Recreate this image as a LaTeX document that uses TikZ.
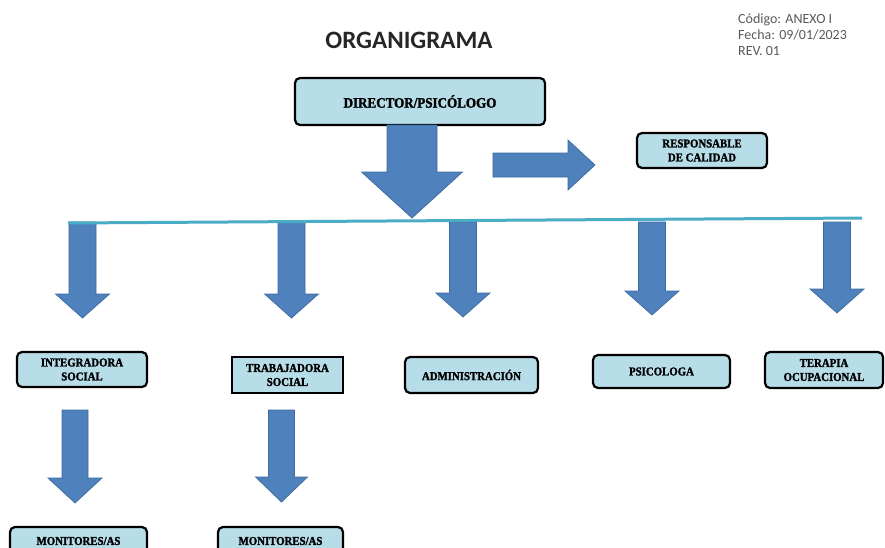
\documentclass[tikz,border=0pt]{standalone}
\usepackage{fontspec}
\setmainfont{Liberation Serif}
\newfontfamily\calibri{Carlito}
\newfontfamily\gruesa[FakeBold=1.6,FakeStretch=0.9]{Liberation Serif Bold}
\usepackage{xcolor}
\usetikzlibrary{calc,positioning}
\definecolor{cajaazul}{HTML}{B7DDE8}
\definecolor{flechaazul}{HTML}{4F81BD}
\definecolor{flechaborde}{HTML}{3D6A9E}
\definecolor{lineaazul}{HTML}{4BACC6}
\tikzset{%
	caja/.style      = {draw=black, line width=2.2pt, rounded corners=5pt, fill=cajaazul, align=center, inner sep=1pt, font=\gruesa\fontsize{12}{14}\selectfont},
	cajarecta/.style = {caja, rounded corners=0pt},
	bloque/.style    = {fill=flechaazul, draw=flechaborde, line width=0.7pt},
	linea/.style     = {draw=lineaazul, line width=3pt},
}
% flecha de bloque: origen, punta, medio ancho del cuerpo, medio ancho de la punta, largo de la punta
\newcommand{\flechabloque}[5]{%
	\coordinate (cuello) at ($(#2)!#5!(#1)$);
	\filldraw[bloque] ($(#1)!#3!90:(#2)$) -- ($(cuello)!#3!90:(#2)$) -- ($(cuello)!#4!90:(#2)$) -- (#2)
		-- ($(cuello)!#4!-90:(#2)$) -- ($(cuello)!#3!-90:(#2)$) -- ($(#1)!#3!-90:(#2)$) -- cycle;
}

\begin{document}
\begin{tikzpicture}[x=1pt,y=-1pt]
		\useasboundingbox (0,0) rectangle (885,547);
		\clip (0,0) rectangle (885,547);
		
		\node[font=\calibri\bfseries\fontsize{25}{30}\selectfont, text=black!85] (titulo) at (409,40) {ORGANIGRAMA};
		\node[anchor=north west, align=left, inner sep=0pt, font=\calibri\fontsize{14}{16}\selectfont, text=black!65] (codigo) at (738,14) {Código: ANEXO I\\Fecha: 09/01/2023\\REV. 01};
		
		\node[caja, minimum width=250pt, minimum height=47pt, font=\gruesa\fontsize{14.5}{16}\selectfont] (director) at (420,101.5) {DIRECTOR/PSICÓLOGO};
		\node[caja, minimum width=130pt, minimum height=35pt] (calidad) at (702,150.5) {RESPONSABLE\\DE CALIDAD};
		
		\node[caja, minimum width=130pt, minimum height=35pt] (integradora) at (82,369.5) {INTEGRADORA\\SOCIAL};
		\node[cajarecta, minimum width=111pt, minimum height=36pt] (trabajadora) at (287.5,375) {TRABAJADORA\\SOCIAL};
		\node[caja, minimum width=133pt, minimum height=36pt] (admin) at (471.5,375) {ADMINISTRACIÓN};
		\node[caja, minimum width=137pt, minimum height=33pt] (psicologa) at (661.5,371.5) {PSICOLOGA};
		\node[caja, minimum width=118pt, minimum height=36pt] (terapia) at (824,370) {TERAPIA\\OCUPACIONAL};
		\node[caja, minimum width=137pt, minimum height=28pt] (monitores1) at (78.5,541) {MONITORES/AS};
		\node[caja, minimum width=125pt, minimum height=28pt] (monitores2) at (280.5,541) {MONITORES/AS};
		
		\coordinate (dirsal) at (412,125);
		\coordinate (dirpunta) at (412,218);
		\coordinate (calsal) at (493,165);
		\coordinate (calpunta) at (595,165);
		\coordinate (linea0) at (68,223);
		\coordinate (linea1) at (862,218);
		
		\flechabloque{dirsal}{dirpunta}{25pt}{50.5pt}{46pt}
		\flechabloque{calsal}{calpunta}{12pt}{25pt}{27pt}
		
		\coordinate (r1) at (82.5,222);  \coordinate (p1) at (82.5,318);
		\coordinate (r2) at (291.5,222); \coordinate (p2) at (291.5,318);
		\coordinate (r3) at (463,222);   \coordinate (p3) at (463,317);
		\coordinate (r4) at (652,222);   \coordinate (p4) at (652,315);
		\coordinate (r5) at (837,222);   \coordinate (p5) at (837,313);
		\foreach \i in {1,...,5}
			\flechabloque{r\i}{p\i}{13.5pt}{27pt}{24pt};
		
		\coordinate (s1) at (75,410);    \coordinate (q1) at (75,503);
		\coordinate (s2) at (281.5,410); \coordinate (q2) at (281.5,502);
		\flechabloque{s1}{q1}{13pt}{27pt}{25pt}
		\flechabloque{s2}{q2}{13pt}{26pt}{25pt}
		
		\draw[linea] (linea0) -- (linea1);
		\end{tikzpicture}
\end{document}
